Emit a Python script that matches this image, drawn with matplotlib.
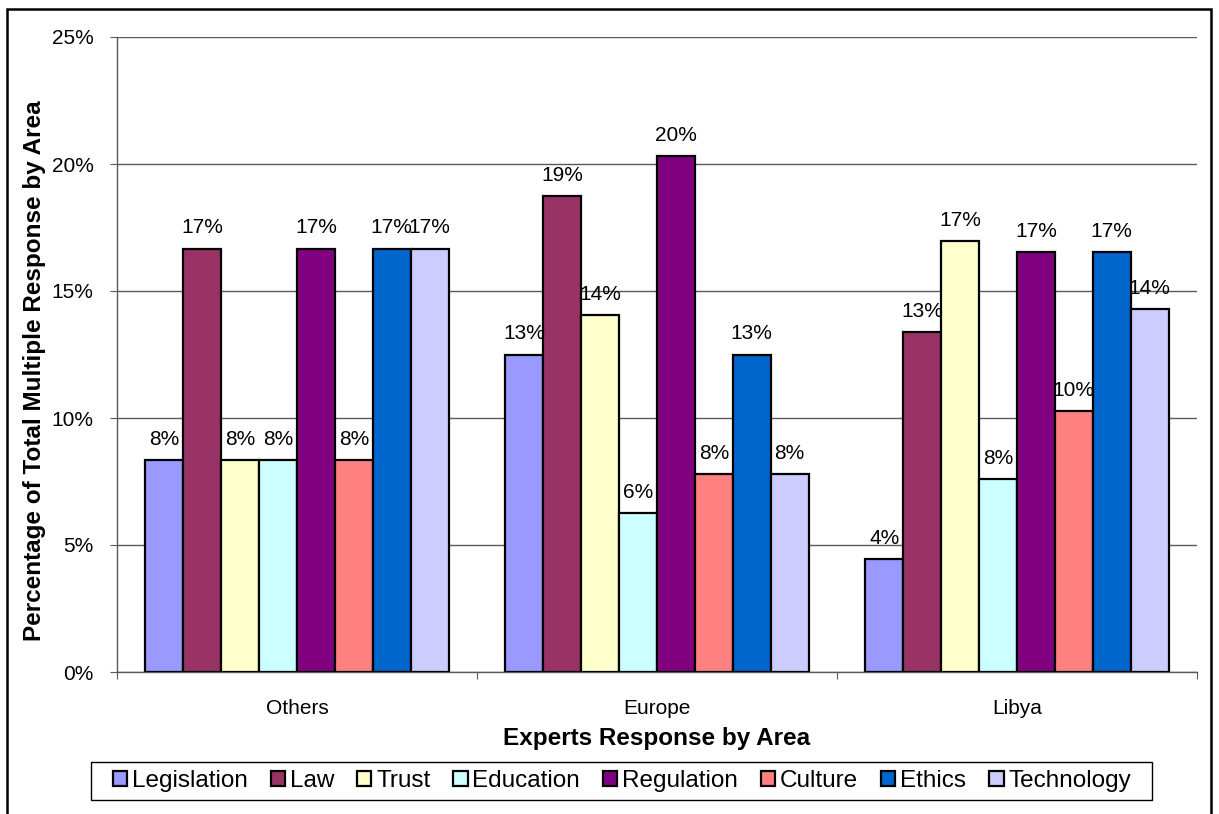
import matplotlib
matplotlib.use("Agg")
import matplotlib.pyplot as plt
import matplotlib.patches as mpatches
import numpy as np

plt.rcParams['font.family'] = ['Liberation Sans', 'DejaVu Sans']

areas = ["Others", "Europe", "Libya"]
series = ["Legislation", "Law", "Trust", "Education",
          "Regulation", "Culture", "Ethics", "Technology"]
colors = ["#9999FF", "#993366", "#FFFFCC", "#CCFFFF",
          "#800080", "#FF8080", "#0066CC", "#CCCCFF"]

# percentage of responses per area, one list per series (Others, Europe, Libya)
legislation = [8.33, 12.50, 4.46]
law = [16.67, 18.75, 13.39]
trust = [8.33, 14.06, 16.96]
education = [8.33, 6.25, 7.59]
regulation = [16.67, 20.31, 16.52]
culture = [8.33, 7.81, 10.27]
ethics = [16.67, 12.50, 16.52]
technology = [16.67, 7.81, 14.29]
values = [legislation, law, trust, education, regulation, culture, ethics, technology]

yticks = [0, 5, 10, 15, 20, 25]

W, H = 1219, 814
fig = plt.figure(figsize=(W / 100, H / 100), dpi=100)
ax_left, ax_bottom, ax_w, ax_h = 117, 142, 1080, 635
ax = fig.add_axes([ax_left / W, ax_bottom / H, ax_w / W, ax_h / H])

n = len(series)
gap = 1.5
bar_w = 1.0 / (n + gap)
grid_c = "#5a5a5a"

for i, (name, vals, c) in enumerate(zip(series, values, colors)):
    x = np.arange(len(areas)) + (gap / 2 + i + 0.5) * bar_w
    ax.bar(x, vals, width=bar_w, color=c, edgecolor="black", linewidth=1.6,
           label=name, zorder=3)
    for xi, v in zip(x, vals):
        ax.annotate(f"{int(v + 0.5)}%", (xi, v), xytext=(0, 8),
                    textcoords="offset points", ha="center", va="bottom",
                    fontsize=15, color="black", zorder=4)

ax.set_xlim(0, len(areas))
ax.set_ylim(0, 25)
ax.set_yticks(yticks)
ax.set_yticklabels([f"{t}%" for t in yticks], fontsize=15)
ax.yaxis.grid(True, color=grid_c, linewidth=1.0, zorder=0)
ax.tick_params(axis="y", direction="out", length=5, color=grid_c, pad=12)

# group separators as ticks, area names centred under each group
ax.set_xticks(np.arange(len(areas) + 1))
ax.set_xticklabels([])
ax.tick_params(axis="x", direction="out", length=5, color=grid_c)
for k, name in enumerate(areas):
    ax.text(k + 0.5, -36 / ax_h, name, transform=ax.get_xaxis_transform(),
            ha="center", va="center", fontsize=15)

for s in ["top", "right"]:
    ax.spines[s].set_visible(False)
for s in ["left", "bottom"]:
    ax.spines[s].set_color(grid_c)
    ax.spines[s].set_linewidth(1.0)

ax.set_xlabel("Experts Response by Area", fontsize=17.5, fontweight="bold",
              va="center")
ax.xaxis.set_label_coords(0.5, -66 / ax_h)
ax.set_ylabel("Percentage of Total Multiple Response by Area", fontsize=17.5,
              fontweight="bold", va="center")
ax.yaxis.set_label_coords((35 - ax_left) / ax_w, (672 - 371) / ax_h)

# legend with a plain rectangular box below the axis title
leg = fig.legend(loc="center", bbox_to_anchor=(622 / W, 1 - 781 / H), ncol=8,
                 fontsize=17.5, frameon=False,
                 handlelength=0.58, handleheight=0.58, handletextpad=0.2,
                 columnspacing=0.95, borderpad=0.0)
for h in leg.legend_handles:
    h.set_linewidth(1.6)
legend_box = mpatches.Rectangle((91 / W, 1 - 800 / H), (1152 - 91) / W, 38 / H,
                                transform=fig.transFigure, fill=False,
                                edgecolor="black", linewidth=1.0)
fig.patches.append(legend_box)

frame = mpatches.Rectangle((7 / W, -0.05), 1204 / W, (H - 9) / H + 0.05,
                           transform=fig.transFigure, fill=False,
                           edgecolor="black", linewidth=1.8)
fig.patches.append(frame)

fig.savefig("out.png", dpi=100)
